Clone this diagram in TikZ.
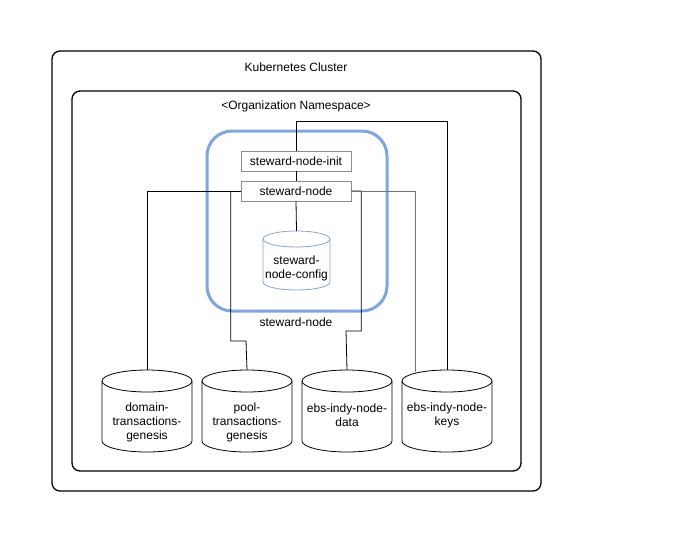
\documentclass[tikz,border=0pt]{standalone}
\usepackage{fontspec}
\setmainfont{Liberation Sans}
\begin{document}
\begin{tikzpicture}[x=1pt,y=1pt,font=\fontsize{12}{14}\selectfont,
  box/.style={draw=black!45,line width=0.6pt,minimum width=110pt,minimum height=20pt,inner sep=0pt},
  lbl/.style={align=center,inner sep=0pt},
  wire/.style={line width=0.8pt}]
\useasboundingbox (0,0) rectangle (692,-552);
\draw[line width=1.3pt,rounded corners=8pt] (52,-51) rectangle (541,-491);
\node[lbl] (k8s) at (296,-67) {Kubernetes Cluster};
\draw[line width=1.3pt,rounded corners=8pt] (72,-91) rectangle (521,-471);
\node[lbl] (ns) at (296,-106) {<Organization Namespace>};
\draw[draw={rgb,255:red,126;green,166;blue,224},line width=3pt,rounded corners=25pt] (207,-131) rectangle (387,-311);
\node[lbl] (podlbl) at (296,-322) {steward-node};
\node[box] (init) at (296,-161) {steward-node-init};
\node[box] (sn) at (296,-191) {steward-node};
% cylinders
\newcommand\mycyl[7]{% name, left, top, width, height, ry, color
  \draw[#7,line width=0.8pt,fill=white] (#2,-#3-#6) -- (#2,-#3-#5+#6) arc[start angle=180,end angle=360,x radius=#4/2,y radius=#6] -- (#2+#4,-#3-#6);
  \draw[#7,line width=0.8pt] (#2+#4/2,-#3-#6) ellipse[x radius=#4/2,y radius=#6];
  \coordinate (#1) at (#2+#4/2,-#3);}
\mycyl{cfg}{263}{231}{67}{59}{8}{draw={rgb,255:red,126;green,166;blue,224}}
\node[lbl] (cfgt) at (296.5,-268) {steward-\\node-config};
\mycyl{dom}{102}{370}{90}{82}{11}{draw=black}
\mycyl{pool}{202}{370}{90}{82}{11}{draw=black}
\mycyl{data}{302}{370}{90}{82}{11}{draw=black}
\mycyl{keys}{402}{370}{90}{82}{11}{draw=black}
\node[lbl] (domt) at (147,-422) {domain-\\transactions-\\genesis};
\node[lbl] (poolt) at (247,-422) {pool-\\transactions-\\genesis};
\node[lbl] (datat) at (347,-415) {ebs-indy-node-\\data};
\node[lbl] (keyst) at (447,-415) {ebs-indy-node-\\keys};
% wires
\draw[wire] (init.north) -- ++(0,29) -| (keys);
\draw[wire] (init) -- (sn);
\draw[wire] (sn.south) -- (cfg);
\draw[wire] (sn.west) -| (dom);
\draw[wire] (sn.west) ++(-10,0) |- (246,-341) -- (pool);
\draw[wire] (sn.east) -- ++(10,0) |- (346,-331) -- (data);
\draw[line width=1pt,black!55] (sn.east) -| (415,-372);
\end{tikzpicture}
\end{document}
